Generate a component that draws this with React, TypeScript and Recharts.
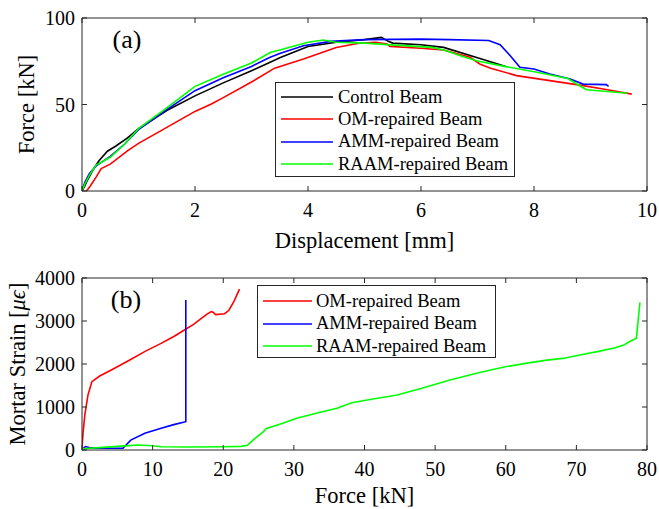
import React from 'react';
import { LineChart, Line, XAxis, YAxis, Legend } from 'recharts';

// ---------- Panel (a): Force vs displacement ----------
const controlDisp = [0, 0.05, 0.1, 0.2, 0.3, 0.45, 0.6, 0.8, 1.0, 1.5, 2.0, 2.5, 3.0, 3.33, 3.5, 4.0, 4.5, 5.0, 5.3, 5.42, 5.5, 6.0, 6.4, 7.0, 7.5];
const controlForce = [0, 3, 6.5, 12.5, 17.5, 23, 26, 30.5, 36, 46.5, 55, 62.5, 69.5, 74.4, 77, 83.5, 86, 87.5, 88.8, 86.5, 85.5, 84.5, 83, 77, 72];

const omDisp = [0.08, 0.15, 0.25, 0.34, 0.5, 0.81, 1.0, 1.4, 2.0, 2.29, 2.5, 3.0, 3.41, 3.92, 4.5, 4.9, 5.2, 5.4, 5.45, 6.0, 6.4, 6.87, 7.04, 7.22, 7.69, 8.28, 8.87, 9.3, 9.73];
const omForce = [0, 3, 8, 13, 15.5, 23.3, 27.5, 34.9, 46, 50.3, 54, 63, 71, 76.3, 83, 85.4, 86, 85, 83.6, 82.5, 81.5, 77.3, 73.4, 71.1, 66.7, 63.8, 60.9, 58.5, 56];

const ammDisp = [0, 0.05, 0.13, 0.25, 0.5, 0.75, 1.0, 1.5, 2.0, 2.5, 3.0, 3.33, 3.5, 3.92, 4.4, 5.0, 6.0, 6.5, 7.2, 7.4, 7.58, 7.75, 8.0, 8.28, 8.64, 8.87, 9.28, 9.32];
const ammForce = [0, 5, 10, 14.5, 20, 27, 35.5, 47, 58, 65.5, 72, 77.3, 79.5, 84, 86.5, 87.5, 87.8, 87.5, 87, 84.6, 78.2, 71.5, 70.5, 67.6, 64.7, 61.8, 61.5, 60.5];

const raamDisp = [0, 0.05, 0.13, 0.25, 0.5, 0.75, 1.0, 1.5, 2.0, 2.5, 3.0, 3.33, 3.5, 4.0, 4.27, 4.5, 5.0, 5.4, 6.2, 6.4, 6.75, 7.0, 7.5, 8.1, 8.6, 8.8, 8.93, 9.3, 9.65];
const raamForce = [0, 4, 9, 15, 19.5, 27, 36, 48, 60.5, 67.5, 74, 80, 81.5, 86, 87.3, 86, 85.5, 84.6, 83, 81.5, 77.6, 75.1, 71.9, 68.4, 65, 61, 58.5, 57.5, 56.5];

const dispTicks = [0, 2, 4, 6, 8, 10];
const forceTicks = [0, 50, 100];

// ---------- Panel (b): Mortar strain vs force ----------
const omLoad = [0, 0.15, 0.4, 0.85, 1.4, 2.5, 4.15, 6.5, 9, 11.2, 13, 14.5, 15.8, 16.9, 17.7, 18.3, 18.6, 18.9, 20.2, 20.8, 21.5, 22.3];
const omStrain = [50, 400, 815, 1280, 1590, 1720, 1860, 2070, 2300, 2480, 2640, 2790, 2920, 3060, 3160, 3220, 3200, 3150, 3170, 3250, 3450, 3740];

const ammLoad = [0, 0.5, 1, 2, 4, 5.8, 6.9, 8.9, 11.2, 13, 14.5, 14.7, 14.7];
const ammStrain = [20, 80, 60, 40, 40, 40, 230, 390, 505, 590, 650, 660, 3490];

const raamLoad = [0, 3, 6, 8, 10, 11.2, 15, 20, 22.5, 23.4, 24.5, 25.7, 26.1, 28, 30.4, 33, 36.1, 38.2, 41, 44.6, 48, 52.1, 56, 60.1, 63, 65.8, 68.1, 70.5, 73.3, 75.5, 76.7, 77.6, 78.5, 79];
const raamStrain = [30, 60, 95, 115, 100, 75, 70, 75, 85, 110, 270, 427, 500, 600, 737, 850, 970, 1100, 1180, 1280, 1430, 1630, 1790, 1940, 2020, 2090, 2130, 2210, 2300, 2380, 2440, 2530, 2600, 3430];

const loadTicks = [0, 10, 20, 30, 40, 50, 60, 70, 80];
const strainTicks = [0, 1000, 2000, 3000, 4000];

const seriesOrder = ['Control Beam', 'OM-repaired Beam', 'AMM-repaired Beam', 'RAAM-repaired Beam'];

const zip = (xs: number[], ys: number[]) => xs.map((x, i) => ({ x, y: ys[i] }));

const AX = '#262626';
const FONT = '"Liberation Serif", "Times New Roman", Times, serif';
const TICK_FS = 20;
const LW = 1.6;

const BottomTick = (p: any) => (
  <g>
    <line x1={p.x} y1={p.y} x2={p.x} y2={p.y - 5} stroke={AX} strokeWidth={1} />
    <text x={p.x} y={p.y + 19} textAnchor="middle" dominantBaseline="central" fontFamily={FONT} fontSize={TICK_FS} fill="#000">
      {p.payload.value}
    </text>
  </g>
);
const TopTick = (p: any) => <line x1={p.x} y1={p.y} x2={p.x} y2={p.y + 5} stroke={AX} strokeWidth={1} />;
const LeftTick = (p: any) => (
  <g>
    <line x1={p.x} y1={p.y} x2={p.x + 5} y2={p.y} stroke={AX} strokeWidth={1} />
    <text x={p.x - 7} y={p.y} textAnchor="end" dominantBaseline="central" fontFamily={FONT} fontSize={TICK_FS} fill="#000">
      {p.payload.value}
    </text>
  </g>
);
const RightTick = (p: any) => <line x1={p.x} y1={p.y} x2={p.x - 5} y2={p.y} stroke={AX} strokeWidth={1} />;

const makeXLabel = (text: string, dy: number) => (props: any) => {
  const vb = props.viewBox || {};
  return (
    <text x={vb.x + vb.width / 2} y={vb.y + dy} textAnchor="middle" dominantBaseline="central" fontFamily={FONT} fontSize={22.5} fill="#000">
      {text}
    </text>
  );
};

const makeYLabel = (content: React.ReactNode, cx: number) => (props: any) => {
  const vb = props.viewBox || {};
  const cy = vb.y + vb.height / 2;
  return (
    <text x={cx} y={cy} transform={`rotate(-90, ${cx}, ${cy})`} textAnchor="middle" dominantBaseline="central" fontFamily={FONT} fontSize={22.5} fill="#000">
      {content}
    </text>
  );
};

const makeLegend = (rowH: number, padTop: number, lineLeft: number, lineW: number, gap: number) => (props: any) => {
  const payload = [...(props.payload || [])].sort(
    (a: any, b: any) => seriesOrder.indexOf(a.value) - seriesOrder.indexOf(b.value)
  );
  return (
    <div style={{ border: `1px solid ${AX}`, background: '#fff', boxSizing: 'border-box', width: '100%', height: '100%', paddingTop: padTop }}>
      {payload.map((item: any, i: number) => (
        <div key={i} style={{ display: 'flex', alignItems: 'center', height: rowH }}>
          <svg width={lineLeft + lineW} height={4} style={{ display: 'block', flex: 'none' }}>
            <line x1={lineLeft - 1} x2={lineLeft - 1 + lineW} y1={2} y2={2} stroke={item.color} strokeWidth={LW} />
          </svg>
          <span style={{ marginLeft: gap, fontSize: 18.5, fontFamily: FONT, color: '#000', lineHeight: 1, whiteSpace: 'nowrap' }}>{item.value}</span>
        </div>
      ))}
    </div>
  );
};

const panelLabel = (text: string, cx: number, cy: number) => (
  <div
    style={{
      position: 'absolute',
      left: cx,
      top: cy,
      transform: 'translate(-50%, -50%)',
      fontFamily: FONT,
      fontSize: 26,
      lineHeight: 1,
      color: '#000',
      whiteSpace: 'nowrap',
    }}
  >
    {text}
  </div>
);

export default function App() {
  const controlData = zip(controlDisp, controlForce);
  const omData = zip(omDisp, omForce);
  const ammData = zip(ammDisp, ammForce);
  const raamData = zip(raamDisp, raamForce);

  const omSData = zip(omLoad, omStrain);
  const ammSData = zip(ammLoad, ammStrain);
  const raamSData = zip(raamLoad, raamStrain);

  return (
    <div style={{ position: 'absolute', left: 0, top: 0, width: 659, height: 509, background: '#fff', overflow: 'hidden' }}>
      <div style={{ position: 'absolute', left: 0, top: 0 }}>
        <LineChart width={659} height={262} margin={{ top: 17, right: 11, bottom: 0, left: 0 }}>
          <XAxis
            type="number"
            dataKey="x"
            domain={[0, 10]}
            ticks={dispTicks}
            interval={0}
            allowDataOverflow
            height={71}
            tickSize={0}
            tickMargin={0}
            tickLine={false}
            axisLine={{ stroke: AX, strokeWidth: 1 }}
            tick={BottomTick}
            label={makeXLabel('Displacement [mm]', 49)}
          />
          <XAxis
            xAxisId="t"
            orientation="top"
            type="number"
            dataKey="x"
            domain={[0, 10]}
            ticks={dispTicks}
            interval={0}
            allowDataOverflow
            height={1}
            tickSize={0}
            tickMargin={0}
            tickLine={false}
            axisLine={{ stroke: AX, strokeWidth: 1 }}
            tick={TopTick}
          />
          <YAxis
            type="number"
            domain={[0, 100]}
            ticks={forceTicks}
            interval={0}
            allowDataOverflow
            width={82}
            tickSize={0}
            tickMargin={0}
            tickLine={false}
            axisLine={{ stroke: AX, strokeWidth: 1 }}
            tick={LeftTick}
            label={makeYLabel('Force [kN]', 26)}
          />
          <YAxis
            yAxisId="r"
            orientation="right"
            type="number"
            domain={[0, 100]}
            ticks={forceTicks}
            interval={0}
            allowDataOverflow
            width={1}
            tickSize={0}
            tickMargin={0}
            tickLine={false}
            axisLine={{ stroke: AX, strokeWidth: 1 }}
            tick={RightTick}
          />
          <Line data={controlData} dataKey="y" name="Control Beam" stroke="#000000" strokeWidth={LW} dot={false} type="linear" isAnimationActive={false} />
          <Line data={omData} dataKey="y" name="OM-repaired Beam" stroke="#ff0000" strokeWidth={LW} dot={false} type="linear" isAnimationActive={false} />
          <Line data={ammData} dataKey="y" name="AMM-repaired Beam" stroke="#0000ff" strokeWidth={LW} dot={false} type="linear" isAnimationActive={false} />
          <Line data={raamData} dataKey="y" name="RAAM-repaired Beam" stroke="#00ff00" strokeWidth={LW} dot={false} type="linear" isAnimationActive={false} />
          <Legend
            layout="vertical"
            verticalAlign="middle"
            align="center"
            content={makeLegend(22.33, 2.8, 6, 52, 4)}
            wrapperStyle={{ left: 275, top: 82, width: 240, height: 95 }}
          />
        </LineChart>
        {panelLabel('(a)', 127, 40)}
      </div>

      <div style={{ position: 'absolute', left: 0, top: 260 }}>
        <LineChart width={659} height={249} margin={{ top: 17, right: 11, bottom: 0, left: 0 }}>
          <XAxis
            type="number"
            dataKey="x"
            domain={[0, 80]}
            ticks={loadTicks}
            interval={0}
            allowDataOverflow
            height={59}
            tickSize={0}
            tickMargin={0}
            tickLine={false}
            axisLine={{ stroke: AX, strokeWidth: 1 }}
            tick={BottomTick}
            label={makeXLabel('Force [kN]', 45)}
          />
          <XAxis
            xAxisId="t"
            orientation="top"
            type="number"
            dataKey="x"
            domain={[0, 80]}
            ticks={loadTicks}
            interval={0}
            allowDataOverflow
            height={1}
            tickSize={0}
            tickMargin={0}
            tickLine={false}
            axisLine={{ stroke: AX, strokeWidth: 1 }}
            tick={TopTick}
          />
          <YAxis
            type="number"
            domain={[0, 4000]}
            ticks={strainTicks}
            interval={0}
            allowDataOverflow
            width={82}
            tickSize={0}
            tickMargin={0}
            tickLine={false}
            axisLine={{ stroke: AX, strokeWidth: 1 }}
            tick={LeftTick}
            label={makeYLabel(
              <>
                Mortar Strain [<tspan fontStyle="italic">μϵ</tspan>]
              </>,
              17
            )}
          />
          <YAxis
            yAxisId="r"
            orientation="right"
            type="number"
            domain={[0, 4000]}
            ticks={strainTicks}
            interval={0}
            allowDataOverflow
            width={1}
            tickSize={0}
            tickMargin={0}
            tickLine={false}
            axisLine={{ stroke: AX, strokeWidth: 1 }}
            tick={RightTick}
          />
          <Line data={omSData} dataKey="y" name="OM-repaired Beam" stroke="#ff0000" strokeWidth={LW} dot={false} type="linear" isAnimationActive={false} />
          <Line data={ammSData} dataKey="y" name="AMM-repaired Beam" stroke="#0000ff" strokeWidth={LW} dot={false} type="linear" isAnimationActive={false} />
          <Line data={raamSData} dataKey="y" name="RAAM-repaired Beam" stroke="#00ff00" strokeWidth={LW} dot={false} type="linear" isAnimationActive={false} />
          <Legend
            layout="vertical"
            verticalAlign="middle"
            align="center"
            content={makeLegend(22.5, 3.75, 6, 49, 3)}
            wrapperStyle={{ left: 257, top: 25, width: 239, height: 73 }}
          />
        </LineChart>
        {panelLabel('(b)', 126, 40)}
      </div>
    </div>
  );
}
